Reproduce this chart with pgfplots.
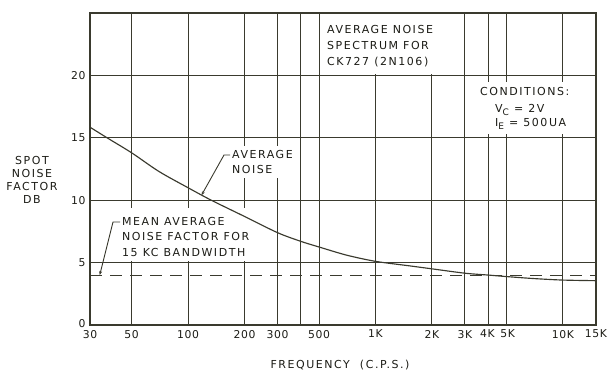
\documentclass[border=0pt]{standalone}
\usepackage{fontspec}
\usepackage{pgfplots}
\pgfplotsset{compat=1.18}
\usetikzlibrary{arrows.meta}
\newfontfamily\lettering[LetterSpace=14]{DejaVu Sans}
\newfontfamily\tickfont[LetterSpace=6]{DejaVu Sans}
\newcommand\lbl{\lettering\fontsize{11bp}{13bp}\selectfont}
\newcommand\tkl{\tickfont\fontsize{10.8bp}{13bp}\selectfont}
\definecolor{ink}{RGB}{58,58,46}
\definecolor{txt}{RGB}{28,28,22}
\begin{document}
\begin{tikzpicture}
\useasboundingbox (-90bp,-46bp) rectangle (523bp,325bp);
\begin{axis}[
  at={(0,0)}, anchor=south west,
  scale only axis, width=506bp, height=312bp,
  xmode=log, xmin=30, xmax=15000, ymin=0, ymax=25,
  xtick={30,50,100,200,300,400,500,1000,2000,3000,4000,5000,10000,15000},
  xticklabels={30,50,100,200,300,{},500,1K,2K,3K,{\hspace*{-2bp}4K},{\hspace*{2bp}5K},10K,15K},
  minor xtick={}, minor ytick={},
  ytick={0,5,10,15,20},
  yticklabels={\raisebox{3bp}{0},5,10,15,20},
  grid=major,
  major grid style={draw=ink, line width=1bp},
  axis line style={draw=ink, line width=1.1bp},
  major tick length=0pt,
  /pgf/number format/assume math mode=true,
  ticklabel style={font=\tkl, text=txt},
  xticklabel style={yshift=-1.5bp},
  yticklabel style={xshift=-1bp},
  clip=false,
]
% white label backgrounds (drawn over the grid, under the curves)
\fill[white] (rel axis cs:0.4605,0.9952) rectangle (rel axis cs:0.6759,0.8045);
\fill[white] (rel axis cs:0.7628,0.7788) rectangle (rel axis cs:0.9783,0.6122);
\fill[white] (rel axis cs:0.2727,0.5737) rectangle (rel axis cs:0.4071,0.4712);
\fill[white] (rel axis cs:0.0553,0.375) rectangle (rel axis cs:0.3202,0.2051);
\addplot[ink, line width=1.15bp, smooth] coordinates {
 (30,15.85) (37,15.0) (50,13.8) (70,12.3) (100,11.0) (133,10.0) (200,8.7)
 (300,7.4) (400,6.7) (500,6.25) (700,5.6) (1000,5.1) (1500,4.75) (2000,4.5)
 (3000,4.15) (4000,4.0) (5000,3.88) (7000,3.72) (10000,3.6) (15000,3.55)};
\addplot[ink, line width=1bp, dash pattern=on 12bp off 8bp] coordinates {(30,4) (15000,4)};
\coordinate (tipA) at (axis cs:118,10.4);
\coordinate (tipB) at (axis cs:33.8,4);
\end{axis}
% annotations
\begin{scope}[every node/.style={font=\lbl, text=txt, inner sep=0pt, anchor=base west}]
\node at (237bp,291bp) {AVERAGE NOISE};
\node at (237bp,275bp) {SPECTRUM FOR};
\node at (237bp,259bp) {CK727 (2N106)};
\node at (390bp,229bp) {CONDITIONS:};
\node at (405bp,212bp) {V\raisebox{-3bp}{\fontsize{9bp}{9bp}\selectfont C} = 2V};
\node at (405bp,198bp) {I\raisebox{-3bp}{\fontsize{9bp}{9bp}\selectfont E} = 500UA};
\node at (142bp,166bp) {AVERAGE};
\node at (142bp,151bp) {NOISE};
\node at (32bp,99bp) {MEAN AVERAGE};
\node at (32bp,84bp) {NOISE FACTOR FOR};
\node at (32bp,68bp) {15 KC BANDWIDTH};
\end{scope}
\draw[ink, line width=0.9bp, -{Stealth[length=4bp,width=3bp]}] (140bp,170bp) -- (134bp,170bp) -- (tipA);
\draw[ink, line width=0.9bp, -{Stealth[length=4bp,width=3bp]}] (30bp,103bp) -- (23bp,103bp) -- (tipB);
\node[font=\lbl, text=txt, align=center, inner sep=0pt] at (-58bp,145bp)
  {\fontsize{11bp}{15.5bp}\selectfont SPOT\\NOISE\\FACTOR\\DB};
\node[font=\lbl, text=txt, inner sep=0pt] at (250bp,-40bp) {FREQUENCY\ \ (C.P.S.)};
\end{tikzpicture}
\end{document}
